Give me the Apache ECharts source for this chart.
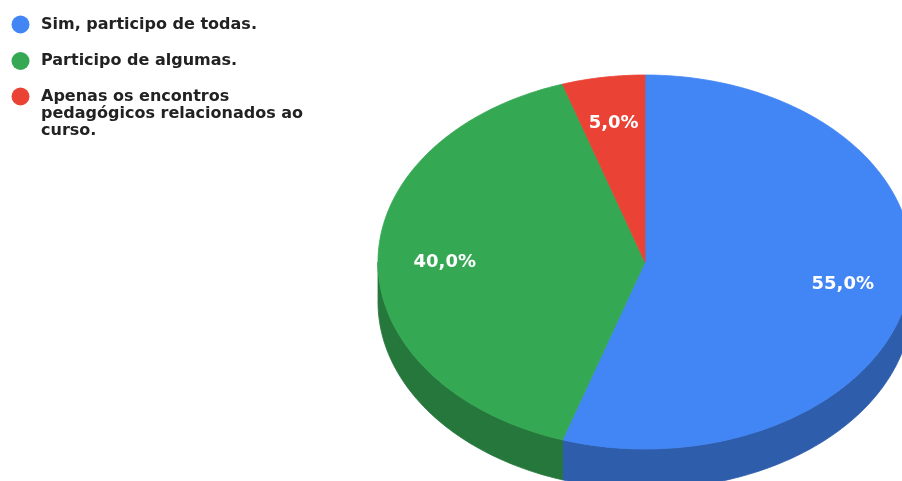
<!DOCTYPE html>
<html>
<head>
<meta charset="utf-8">
<title>Participação nas reuniões</title>
<style>
  html, body { margin: 0; padding: 0; background: #ffffff; }
  #chart { width: 902px; height: 481px; }
</style>
<script src="https://cdn.jsdelivr.net/npm/echarts@6/dist/echarts.min.js"></script>
</head>
<body>
<div id="chart"></div>
<script>
// Answers and their share of responses (%)
const categories = [
  'Sim, participo de todas.',
  'Participo de algumas.',
  'Apenas os encontros pedagógicos relacionados ao curso.'
];
const values = [55, 40, 5];

// Slice colours: top face and the darker outer wall
const topColors = ['#4285f4', '#34a853', '#ea4335'];
const sideColors = ['#2e5dab', '#25773b', '#a42f25'];

const total = values.reduce((a, b) => a + b, 0);
const starts = [];
values.reduce((acc, v) => { starts.push(acc); return acc + v; }, 0);

// Tilted pie geometry (pixels)
const PIE = { cx: 645, cy: 262, rx: 267, ry: 187, depth: 40, labelR: 0.75 };

// angle measured clockwise from 12 o'clock
function pt(theta, dy) {
  return [PIE.cx + PIE.rx * Math.sin(theta), PIE.cy - PIE.ry * Math.cos(theta) + (dy || 0)];
}
function arc(a0, a1, dy) {
  const n = Math.max(2, Math.ceil((a1 - a0) / (Math.PI / 180)));
  const pts = [];
  for (let i = 0; i <= n; i++) pts.push(pt(a0 + (a1 - a0) * i / n, dy));
  return pts;
}
function pctText(v) {
  return (v / total * 100).toFixed(1).replace('.', ',') + '%';
}

function renderSlice(idx) {
  return function (params, api) {
    const v = api.value(0);
    const a0 = starts[idx] / total * 2 * Math.PI;
    const a1 = (starts[idx] + v) / total * 2 * Math.PI;
    const color = api.visual('color');
    const children = [];
    // outer wall, only on the front half of the rim
    const f0 = Math.max(a0, Math.PI / 2);
    const f1 = Math.min(a1, 3 * Math.PI / 2);
    if (f1 > f0) {
      const upper = arc(f0, f1, 0);
      const lower = arc(f0, f1, PIE.depth).reverse();
      children.push({
        type: 'polygon',
        shape: { points: upper.concat(lower) },
        style: { fill: sideColors[idx], stroke: sideColors[idx], lineWidth: 0.8 }
      });
    }
    // top face
    children.push({
      type: 'polygon',
      shape: { points: [[PIE.cx, PIE.cy]].concat(arc(a0, a1, 0)) },
      style: { fill: color, stroke: color, lineWidth: 0.8 }
    });
    // percentage label
    const mid = (a0 + a1) / 2;
    children.push({
      type: 'text',
      x: PIE.cx + PIE.labelR * PIE.rx * Math.sin(mid),
      y: PIE.cy - PIE.labelR * PIE.ry * Math.cos(mid),
      z2: 10,
      style: {
        text: pctText(v),
        fill: '#ffffff',
        fontFamily: 'DejaVu Sans',
        fontWeight: 'bold',
        fontSize: 18,
        align: 'center',
        verticalAlign: 'middle'
      }
    });
    return { type: 'group', children: children };
  };
}

// Legend text: word-wrapped to a fixed width; for wrapped names, blank lines are
// put in front so the first line sits level with the marker.
const LEGEND_FONT = 'bold 16px "DejaVu Sans"';
const LEGEND_WRAP = 272;
const measureCtx = document.createElement('canvas').getContext('2d');
function wrapWords(text) {
  measureCtx.font = LEGEND_FONT;
  const lines = [];
  let line = '';
  text.split(' ').forEach(w => {
    const next = line ? line + ' ' + w : w;
    if (line && measureCtx.measureText(next).width > LEGEND_WRAP) {
      lines.push(line);
      line = w;
    } else {
      line = next;
    }
  });
  if (line) lines.push(line);
  return lines;
}
function legendLabel(name) {
  const lines = wrapWords(name);
  return '\n'.repeat(lines.length - 1) + lines.join('\n');
}

const legendCommon = {
  orient: 'vertical',
  left: 11.5,
  padding: 0,
  icon: 'circle',
  itemWidth: 18,
  itemHeight: 18,
  itemGap: 18.5,
  selectedMode: false,
  formatter: legendLabel,
  textStyle: {
    fontFamily: 'DejaVu Sans',
    fontWeight: 'bold',
    fontSize: 16,
    lineHeight: 17,
    color: '#222222',
    padding: [0, 0, 0, 6.5]
  }
};

const chart = echarts.init(document.getElementById('chart'), null, { renderer: 'canvas' });
chart.setOption({
  animation: false,
  color: topColors,
  legend: [
    Object.assign({}, legendCommon, {
      top: 15.5,
      data: categories.slice(0, 2)
    }),
    Object.assign({}, legendCommon, {
      top: 54,
      data: [categories[2]]
    })
  ],
  series: categories.map((name, i) => ({
    type: 'custom',
    name: name,
    coordinateSystem: 'none',
    renderItem: renderSlice(i),
    data: [values[i]]
  }))
});
</script>
</body>
</html>
